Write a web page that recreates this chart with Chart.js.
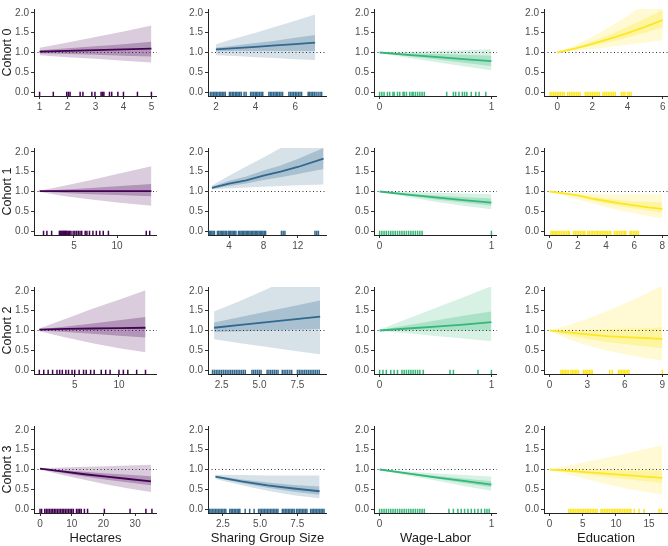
<!DOCTYPE html>
<html lang="en">
<head>
    <meta charset="UTF-8">
    <title>Cohort effects</title>
    <style>
        body { margin: 0; background: #fff; }
        #wrap { position: relative; width: 668px; height: 546px; overflow: hidden; }
        #wrap canvas { position: absolute; }
    </style>
</head>
<body>

    <div id="wrap"></div>

    <script src="https://cdn.jsdelivr.net/npm/chart.js"></script>
    <script>
        // ---- labels ----
        const cohorts = ['Cohort 0', 'Cohort 1', 'Cohort 2', 'Cohort 3'];
        const predictors = ['Hectares', 'Sharing Group Size', 'Wage-Labor', 'Education'];
        const yTickLabels = ['0.0', '0.5', '1.0', '1.5', '2.0'];

        // ---- Hectares ----
        const hect0_x = [1, 2, 3, 4, 5];
        const hect0_fit = [1.02, 1.04, 1.06, 1.08, 1.10];
        const hect0_lo95 = [0.93, 0.88, 0.84, 0.79, 0.75];
        const hect0_hi95 = [1.12, 1.25, 1.39, 1.53, 1.68];
        const hect0_lo50 = [0.98, 0.96, 0.94, 0.92, 0.90];
        const hect0_hi50 = [1.06, 1.11, 1.16, 1.21, 1.27];
        const hect0_rug = [1, 1.49, 1.97, 2.03, 2.09, 2.45, 2.55, 2.87, 2.98, 3.2, 3.25, 3.3, 3.5, 3.58, 3.8, 4.0, 4.5, 5.0];
        const hect0_ticks = ['1', '2', '3', '4', '5'];

        const hect1_x = [1, 4, 7, 10, 14];
        const hect1_fit = [1.01, 1.01, 1.01, 1.01, 1.01];
        const hect1_lo95 = [0.99, 0.88, 0.80, 0.72, 0.64];
        const hect1_hi95 = [1.02, 1.15, 1.29, 1.44, 1.64];
        const hect1_lo50 = [1.0, 0.96, 0.93, 0.91, 0.88];
        const hect1_hi50 = [1.02, 1.05, 1.09, 1.13, 1.19];
        const hect1_rug = [1.46, 1.85, 2.4, 3.3, 3.4, 3.5, 3.6, 3.7, 3.8, 3.9, 4.0, 4.1, 4.2, 4.35, 4.5, 4.65, 4.9, 5.1, 5.3, 5.5, 5.7, 5.9, 6.3, 6.5, 6.8, 7.2, 7.6, 8.0, 8.4, 9.0, 13.4, 13.8];
        const hect1_ticks = ['5', '10'];

        const hect2_x = [1, 4, 7, 10, 13];
        const hect2_fit = [1.02, 1.04, 1.05, 1.06, 1.07];
        const hect2_lo95 = [0.98, 0.82, 0.68, 0.55, 0.45];
        const hect2_hi95 = [1.05, 1.3, 1.55, 1.78, 2.02];
        const hect2_lo50 = [1.0, 0.96, 0.92, 0.87, 0.82];
        const hect2_hi50 = [1.03, 1.1, 1.18, 1.26, 1.34];
        const hect2_rug = [1, 1.5, 2, 2.5, 3, 3.3, 3.6, 4, 4.3, 4.7, 5, 5.5, 6, 6.3, 6.8, 7.2, 8, 8.5, 9, 10, 10.5, 11, 12, 13];
        const hect2_ticks = ['5', '10'];

        const hect3_x = [0, 7, 14, 21, 28, 35];
        const hect3_fit = [1.02, 0.95, 0.88, 0.82, 0.76, 0.70];
        const hect3_lo95 = [1.0, 0.86, 0.74, 0.62, 0.52, 0.43];
        const hect3_hi95 = [1.03, 1.05, 1.07, 1.08, 1.10, 1.12];
        const hect3_lo50 = [1.01, 0.91, 0.82, 0.74, 0.67, 0.60];
        const hect3_hi50 = [1.02, 0.98, 0.94, 0.90, 0.87, 0.83];
        const hect3_rug = [0, 0.5, 1.5, 2, 2.5, 3, 3.5, 4, 4.5, 5, 5.5, 6, 6.5, 7, 7.5, 8, 8.5, 9, 9.5, 10, 10.5, 11.5, 12, 12.5, 13, 14, 15, 20.3, 28.4, 33.4, 35.3];
        const hect3_ticks = ['0', '10', '20', '30'];

        // ---- Sharing Group Size ----
        const shar0_x = [2, 3, 4, 5, 6, 7];
        const shar0_fit = [1.08, 1.11, 1.14, 1.18, 1.21, 1.25];
        const shar0_lo95 = [0.93, 0.91, 0.88, 0.86, 0.83, 0.81];
        const shar0_hi95 = [1.21, 1.36, 1.5, 1.65, 1.8, 1.96];
        const shar0_lo50 = [1.03, 1.035, 1.04, 1.04, 1.04, 1.04];
        const shar0_hi50 = [1.12, 1.18, 1.24, 1.3, 1.37, 1.44];
        const shar0_rug = [1.72, 1.8, 1.88, 1.95, 2.02, 2.1, 2.18, 2.25, 2.32, 2.4, 2.47, 2.68, 2.75, 2.83, 2.9, 2.98, 3.05, 3.12, 3.2, 3.28, 3.42, 3.52, 3.75, 3.82, 3.9, 3.98, 4.05, 4.12, 4.2, 4.28, 4.36, 4.67, 4.75, 4.82, 4.9, 4.98, 5.05, 5.12, 5.2, 5.28, 5.36, 5.68, 5.76, 5.84, 5.92, 6.0, 6.08, 6.16, 6.24, 6.32, 6.65, 6.72, 6.8, 6.88, 6.96, 7.05, 7.15, 7.25, 7.33];
        const shar0_ticks = ['2', '4', '6'];

        const shar1_x = [2, 4, 6, 8, 10, 12, 15];
        const shar1_fit = [1.09, 1.2, 1.28, 1.4, 1.5, 1.62, 1.83];
        const shar1_lo95 = [1.05, 1.08, 1.1, 1.12, 1.14, 1.16, 1.18];
        const shar1_hi95 = [1.15, 1.4, 1.63, 1.86, 2.1, 2.35, 2.75];
        const shar1_lo50 = [1.07, 1.14, 1.2, 1.29, 1.36, 1.44, 1.57];
        const shar1_hi50 = [1.12, 1.27, 1.38, 1.53, 1.66, 1.82, 2.1];
        const shar1_rug = [1.7, 1.85, 2.0, 2.15, 2.3, 2.65, 2.8, 2.95, 3.1, 3.25, 3.4, 3.55, 3.7, 3.9, 4.05, 4.2, 4.35, 4.5, 4.65, 4.8, 5.1, 5.25, 5.4, 5.55, 5.7, 5.85, 6.0, 6.15, 6.3, 6.45, 6.6, 6.75, 6.9, 7.05, 7.2, 7.35, 7.5, 7.65, 7.8, 7.95, 8.1, 8.25, 10.1, 10.3, 10.5, 14.0, 14.2, 14.4];
        const shar1_ticks = ['4', '8', '12'];

        const shar2_x = [2, 3.75, 5.5, 7.25, 9];
        const shar2_fit = [1.07, 1.14, 1.21, 1.28, 1.35];
        const shar2_lo95 = [0.78, 0.68, 0.58, 0.49, 0.40];
        const shar2_hi95 = [1.48, 1.75, 2.05, 2.35, 2.65];
        const shar2_lo50 = [0.96, 0.98, 1.0, 1.02, 1.04];
        const shar2_hi50 = [1.2, 1.34, 1.48, 1.62, 1.76];
        const shar2_rug = [1.9, 2.02, 2.14, 2.26, 2.38, 2.5, 2.62, 2.74, 2.86, 2.98, 3.1, 3.22, 3.34, 3.46, 3.58, 3.7, 3.82, 3.94, 4.06, 4.5, 4.62, 4.74, 4.86, 4.98, 5.1, 5.5, 5.62, 5.74, 5.86, 5.98, 6.1, 6.22, 6.5, 6.62, 6.74, 6.86, 7.0, 7.12, 7.5, 7.62, 7.74, 7.86, 7.98, 8.1, 8.22, 8.34, 8.46, 8.58, 8.7, 8.82, 8.94];
        const shar2_ticks = ['2.5', '5.0', '7.5'];

        const shar3_x = [2, 3.75, 5.5, 7.25, 9];
        const shar3_fit = [0.82, 0.70, 0.60, 0.52, 0.45];
        const shar3_lo95 = [0.76, 0.60, 0.46, 0.35, 0.27];
        const shar3_hi95 = [0.87, 0.86, 0.85, 0.85, 0.85];
        const shar3_lo50 = [0.79, 0.66, 0.54, 0.44, 0.36];
        const shar3_hi50 = [0.84, 0.75, 0.67, 0.61, 0.57];
        const shar3_rug = [1.6, 1.7, 1.8, 1.9, 2.0, 2.1, 2.2, 2.3, 2.4, 2.5, 2.6, 2.7, 2.96, 3.06, 3.16, 3.26, 3.36, 3.46, 3.56, 3.64, 4.0, 4.3, 4.6, 4.9, 5.0, 5.1, 5.2, 5.3, 5.4, 5.5, 5.6, 5.7, 5.8, 5.9, 6.0, 6.1, 6.2, 6.5, 6.6, 6.7, 6.8, 6.9, 7.0, 7.1, 7.2, 7.3, 7.45, 7.55, 7.65, 7.75, 7.85, 7.95, 8.05, 8.15, 8.4, 8.5, 8.6, 8.7, 8.8, 8.9, 9.0, 9.1, 9.2, 9.3];
        const shar3_ticks = ['2.5', '5.0', '7.5'];

        // ---- Wage-Labor ----
        const wage0_x = [0, 0.25, 0.5, 0.75, 1];
        const wage0_fit = [1.0, 0.94, 0.89, 0.83, 0.78];
        const wage0_lo95 = [0.99, 0.87, 0.76, 0.65, 0.55];
        const wage0_hi95 = [1.01, 1.02, 1.04, 1.06, 1.08];
        const wage0_lo50 = [1.0, 0.91, 0.83, 0.74, 0.66];
        const wage0_hi50 = [1.0, 0.98, 0.96, 0.94, 0.92];
        const wage0_rug = [0, 0.02, 0.04, 0.07, 0.09, 0.12, 0.13, 0.16, 0.18, 0.21, 0.22, 0.24, 0.27, 0.29, 0.3, 0.32, 0.34, 0.36, 0.38, 0.4, 0.6, 0.66, 0.68, 0.71, 0.74, 0.76, 0.78, 0.82, 0.86, 0.89, 0.95];
        const wage0_ticks = ['0', '1'];

        const wage1_x = [0, 0.25, 0.5, 0.75, 1];
        const wage1_fit = [1.0, 0.92, 0.85, 0.78, 0.72];
        const wage1_lo95 = [0.99, 0.86, 0.74, 0.64, 0.55];
        const wage1_hi95 = [1.01, 0.99, 0.97, 0.95, 0.93];
        const wage1_lo50 = [1.0, 0.9, 0.8, 0.72, 0.64];
        const wage1_hi50 = [1.0, 0.95, 0.9, 0.86, 0.82];
        const wage1_rug = [0, 0.02, 0.04, 0.06, 0.08, 0.1, 0.12, 0.14, 0.16, 0.18, 0.2, 0.22, 0.24, 0.26, 0.28, 0.3, 0.32, 0.34, 0.36, 0.38, 1.0];
        const wage1_ticks = ['0', '1'];

        const wage2_x = [0, 0.25, 0.5, 0.75, 1];
        const wage2_fit = [1.0, 1.05, 1.1, 1.15, 1.21];
        const wage2_lo95 = [0.99, 0.93, 0.86, 0.8, 0.73];
        const wage2_hi95 = [1.02, 1.3, 1.57, 1.84, 2.12];
        const wage2_lo50 = [1.0, 1.0, 1.0, 1.0, 1.0];
        const wage2_hi50 = [1.01, 1.13, 1.25, 1.37, 1.48];
        const wage2_rug = [0, 0.03, 0.06, 0.1, 0.13, 0.16, 0.2, 0.22, 0.24, 0.26, 0.28, 0.3, 0.32, 0.34, 0.36, 0.39, 0.63, 0.66, 0.88, 1.0];
        const wage2_ticks = ['0', '1'];

        const wage3_x = [0, 0.25, 0.5, 0.75, 1];
        const wage3_fit = [1.0, 0.9, 0.8, 0.71, 0.62];
        const wage3_lo95 = [0.99, 0.85, 0.72, 0.58, 0.46];
        const wage3_hi95 = [1.01, 0.95, 0.9, 0.86, 0.82];
        const wage3_lo50 = [1.0, 0.88, 0.77, 0.66, 0.55];
        const wage3_hi50 = [1.0, 0.92, 0.84, 0.77, 0.7];
        const wage3_rug = [0, 0.02, 0.04, 0.06, 0.08, 0.1, 0.12, 0.14, 0.16, 0.18, 0.2, 0.22, 0.24, 0.26, 0.28, 0.3, 0.32, 0.34, 0.36, 0.38, 0.4, 0.62, 0.66, 0.7, 0.73, 0.76, 0.79, 0.82, 0.85, 0.88, 0.91, 0.94, 0.96, 0.98];
        const wage3_ticks = ['0', '1'];

        // ---- Education ----
        const educ0_x = [0, 1, 2, 3, 4, 5, 6];
        const educ0_fit = [1.0, 1.1, 1.22, 1.35, 1.49, 1.65, 1.82];
        const educ0_lo95 = [1.0, 1.05, 1.09, 1.14, 1.2, 1.25, 1.31];
        const educ0_hi95 = [1.0, 1.18, 1.4, 1.65, 1.92, 2.25, 2.55];
        const educ0_lo50 = [1.0, 1.08, 1.17, 1.27, 1.38, 1.5, 1.63];
        const educ0_hi50 = [1.0, 1.13, 1.28, 1.45, 1.65, 1.86, 2.08];
        const educ0_rug = [-0.4, -0.3, -0.2, -0.1, 0, 0.1, 0.2, 0.3, 0.4, 0.6, 0.7, 0.8, 0.9, 1.0, 1.1, 1.2, 1.3, 1.6, 1.7, 1.8, 1.9, 2.0, 2.1, 2.2, 2.3, 2.4, 2.6, 2.7, 2.8, 2.9, 3.0, 3.1, 3.2, 3.3, 3.65, 3.75, 3.85, 4.0, 4.1, 4.2];
        const educ0_ticks = ['0', '2', '4', '6'];

        const educ1_x = [0, 1, 2, 3, 4, 5, 6, 7, 8];
        const educ1_fit = [1.0, 0.95, 0.9, 0.82, 0.76, 0.7, 0.65, 0.6, 0.56];
        const educ1_lo95 = [1.0, 0.9, 0.8, 0.7, 0.6, 0.52, 0.45, 0.38, 0.32];
        const educ1_hi95 = [1.0, 0.98, 0.96, 0.94, 0.93, 0.93, 0.93, 0.93, 0.93];
        const educ1_lo50 = [1.0, 0.93, 0.86, 0.77, 0.7, 0.63, 0.57, 0.52, 0.47];
        const educ1_hi50 = [1.0, 0.96, 0.93, 0.87, 0.82, 0.78, 0.75, 0.74, 0.72];
        const educ1_rug = [0.1, 0.2, 0.3, 0.4, 0.5, 0.6, 0.72, 0.84, 0.96, 1.08, 1.2, 1.32, 1.4, 1.7, 1.82, 1.94, 2.06, 2.18, 2.3, 2.42, 2.5, 2.7, 2.82, 2.94, 3.06, 3.18, 3.3, 3.4, 3.5, 3.62, 3.74, 3.86, 3.98, 4.1, 4.22, 4.34, 4.6, 4.72, 4.84, 4.96, 5.08, 5.2, 5.32, 5.4, 5.7, 5.82, 5.94, 6.06, 6.18, 6.3];
        const educ1_ticks = ['0', '2', '4', '6', '8'];

        const educ2_x = [0, 1.5, 3, 4.5, 6, 7.5, 9];
        const educ2_fit = [1.0, 0.95, 0.9, 0.86, 0.83, 0.81, 0.79];
        const educ2_lo95 = [1.0, 0.78, 0.62, 0.5, 0.4, 0.31, 0.24];
        const educ2_hi95 = [1.0, 1.14, 1.3, 1.48, 1.68, 1.9, 2.15];
        const educ2_lo50 = [1.0, 0.88, 0.79, 0.71, 0.65, 0.6, 0.55];
        const educ2_hi50 = [1.0, 1.0, 1.02, 1.03, 1.05, 1.06, 1.08];
        const educ2_rug = [0.9, 1.02, 1.14, 1.26, 1.38, 1.5, 1.7, 1.82, 1.94, 2.06, 2.18, 2.3, 2.7, 2.82, 2.94, 3.06, 3.18, 3.3, 3.4, 4.8, 5.0, 5.5, 5.62, 5.74, 5.86, 5.98, 6.1, 6.22, 6.34, 9.0];
        const educ2_ticks = ['0', '3', '6', '9'];

        const educ3_x = [0, 4, 8, 12, 17];
        const educ3_fit = [1.0, 0.95, 0.9, 0.85, 0.79];
        const educ3_lo95 = [1.0, 0.82, 0.65, 0.5, 0.37];
        const educ3_hi95 = [1.0, 1.14, 1.28, 1.42, 1.62];
        const educ3_lo50 = [1.0, 0.91, 0.83, 0.75, 0.66];
        const educ3_hi50 = [1.0, 1.0, 0.99, 0.98, 0.97];
        const educ3_rug = [2.9, 3.15, 3.4, 3.65, 3.9, 4.15, 4.4, 4.65, 4.9, 5.15, 5.4, 5.65, 5.9, 6.15, 6.4, 6.65, 6.9, 7.15, 7.75, 8.0, 8.25, 8.5, 8.75, 9.0, 9.25, 9.5, 9.75, 10.0, 10.25, 10.5, 10.75, 11.0, 11.25, 11.5, 11.75, 12.0, 12.25, 12.75, 13.5, 14.25, 16.5, 16.85];
        const educ3_ticks = ['0', '5', '10', '15'];

        // ---- layout (pixels) ----
        const colLeft = [34, 208, 374, 544];
        const colRight = [157, 327, 497, 668];
        const rowTop = [1, 140, 279, 418];
        const plotH = 95;
        const yAxisW = [34, 32, 32, 32];
        const xAxisH = [22, 22, 22, 36];
        const Y_MIN = -0.1, Y_MAX = 2.1;

        // viridis colours per column
        const lineColors = ['#440154', '#31688E', '#35B779', '#FDE725'];
        const rgb = [[68, 1, 84], [49, 104, 142], [53, 183, 121], [253, 231, 37]];

        const panels = [
            { row: 0, col: 0, x: hect0_x, fit: hect0_fit, lo95: hect0_lo95, hi95: hect0_hi95, lo50: hect0_lo50, hi50: hect0_hi50, rug: hect0_rug, ticks: hect0_ticks, min: 0.8, max: 5.2 },
            { row: 1, col: 0, x: hect1_x, fit: hect1_fit, lo95: hect1_lo95, hi95: hect1_hi95, lo50: hect1_lo50, hi50: hect1_hi50, rug: hect1_rug, ticks: hect1_ticks, min: 0.35, max: 14.65 },
            { row: 2, col: 0, x: hect2_x, fit: hect2_fit, lo95: hect2_lo95, hi95: hect2_hi95, lo50: hect2_lo50, hi50: hect2_hi50, rug: hect2_rug, ticks: hect2_ticks, min: 0.4, max: 14.3 },
            { row: 3, col: 0, x: hect3_x, fit: hect3_fit, lo95: hect3_lo95, hi95: hect3_hi95, lo50: hect3_lo50, hi50: hect3_hi50, rug: hect3_rug, ticks: hect3_ticks, min: -1.9, max: 36.9 },
            { row: 0, col: 1, x: shar0_x, fit: shar0_fit, lo95: shar0_lo95, hi95: shar0_hi95, lo50: shar0_lo50, hi50: shar0_hi50, rug: shar0_rug, ticks: shar0_ticks, min: 1.6, max: 7.6 },
            { row: 1, col: 1, x: shar1_x, fit: shar1_fit, lo95: shar1_lo95, hi95: shar1_hi95, lo50: shar1_lo50, hi50: shar1_hi50, rug: shar1_rug, ticks: shar1_ticks, min: 1.55, max: 15.4 },
            { row: 2, col: 1, x: shar2_x, fit: shar2_fit, lo95: shar2_lo95, hi95: shar2_hi95, lo50: shar2_lo50, hi50: shar2_hi50, rug: shar2_rug, ticks: shar2_ticks, min: 1.6, max: 9.45 },
            { row: 3, col: 1, x: shar3_x, fit: shar3_fit, lo95: shar3_lo95, hi95: shar3_hi95, lo50: shar3_lo50, hi50: shar3_hi50, rug: shar3_rug, ticks: shar3_ticks, min: 1.5, max: 9.5 },
            { row: 0, col: 2, x: wage0_x, fit: wage0_fit, lo95: wage0_lo95, hi95: wage0_hi95, lo50: wage0_lo50, hi50: wage0_hi50, rug: wage0_rug, ticks: wage0_ticks, min: -0.05, max: 1.05 },
            { row: 1, col: 2, x: wage1_x, fit: wage1_fit, lo95: wage1_lo95, hi95: wage1_hi95, lo50: wage1_lo50, hi50: wage1_hi50, rug: wage1_rug, ticks: wage1_ticks, min: -0.05, max: 1.05 },
            { row: 2, col: 2, x: wage2_x, fit: wage2_fit, lo95: wage2_lo95, hi95: wage2_hi95, lo50: wage2_lo50, hi50: wage2_hi50, rug: wage2_rug, ticks: wage2_ticks, min: -0.05, max: 1.05 },
            { row: 3, col: 2, x: wage3_x, fit: wage3_fit, lo95: wage3_lo95, hi95: wage3_hi95, lo50: wage3_lo50, hi50: wage3_hi50, rug: wage3_rug, ticks: wage3_ticks, min: -0.05, max: 1.05 },
            { row: 0, col: 3, x: educ0_x, fit: educ0_fit, lo95: educ0_lo95, hi95: educ0_hi95, lo50: educ0_lo50, hi50: educ0_hi50, rug: educ0_rug, ticks: educ0_ticks, min: -0.75, max: 6.3 },
            { row: 1, col: 3, x: educ1_x, fit: educ1_fit, lo95: educ1_lo95, hi95: educ1_hi95, lo50: educ1_lo50, hi50: educ1_hi50, rug: educ1_rug, ticks: educ1_ticks, min: -0.4, max: 8.4 },
            { row: 2, col: 3, x: educ2_x, fit: educ2_fit, lo95: educ2_lo95, hi95: educ2_hi95, lo50: educ2_lo50, hi50: educ2_hi50, rug: educ2_rug, ticks: educ2_ticks, min: -0.45, max: 9.45 },
            { row: 3, col: 3, x: educ3_x, fit: educ3_fit, lo95: educ3_lo95, hi95: educ3_hi95, lo50: educ3_lo50, hi50: educ3_hi50, rug: educ3_rug, ticks: educ3_ticks, min: -0.85, max: 17.85 }
        ];

        Chart.defaults.font.family = "'Liberation Sans', Arial, sans-serif";

        const wrap = document.getElementById('wrap');
        const pts = (xs, ys) => xs.map((x, i) => ({ x: x, y: ys[i] }));
        const rgba = (c, a) => 'rgba(' + rgb[c].join(',') + ',' + a + ')';

        function makePanel(p) {
            const r = p.row, c = p.col;
            const w = yAxisW[c] + colRight[c] - colLeft[c];
            const h = plotH + xAxisH[r];
            const cv = document.createElement('canvas');
            cv.width = w;
            cv.height = h;
            cv.style.left = (colLeft[c] - yAxisW[c]) + 'px';
            cv.style.top = rowTop[r] + 'px';
            cv.style.width = w + 'px';
            cv.style.height = h + 'px';
            wrap.appendChild(cv);

            const band = { showLine: true, pointRadius: 0, borderWidth: 1, borderColor: 'rgba(0,0,0,0)' };

            new Chart(cv, {
                type: 'scatter',
                data: {
                    datasets: [
                        Object.assign({ data: pts(p.x, p.hi95), fill: 1, backgroundColor: rgba(c, 0.2), order: 6 }, band),
                        Object.assign({ data: pts(p.x, p.lo95), fill: false, order: 5 }, band),
                        Object.assign({ data: pts(p.x, p.hi50), fill: 3, backgroundColor: rgba(c, 0.28), order: 4 }, band),
                        Object.assign({ data: pts(p.x, p.lo50), fill: false, order: 3 }, band),
                        {
                            data: [{ x: p.min, y: 1 }, { x: p.max, y: 1 }],
                            showLine: true, pointRadius: 0, borderColor: '#333', borderWidth: 1,
                            borderDash: [1, 2.5], order: 2
                        },
                        {
                            data: pts(p.x, p.fit),
                            showLine: true, pointRadius: 0, borderColor: lineColors[c], borderWidth: 1.8, order: 1
                        },
                        {
                            data: p.rug.map(v => ({ x: v, y: -0.05 })),
                            showLine: false, pointStyle: 'line', rotation: 90, pointRadius: 2.3,
                            borderColor: lineColors[c], borderWidth: 1.5, order: 0
                        }
                    ]
                },
                options: {
                    responsive: false,
                    animation: false,
                    events: [],
                    layout: { padding: 0, autoPadding: false },
                    plugins: { legend: { display: false }, tooltip: { enabled: false } },
                    scales: {
                        x: {
                            type: 'linear',
                            min: p.min,
                            max: p.max,
                            afterBuildTicks: a => { a.ticks = p.ticks.map(t => ({ value: Number(t) })); },
                            afterFit: s => { s.height = xAxisH[r]; },
                            ticks: {
                                callback: (v, i) => p.ticks[i],
                                color: '#4d4d4d', font: { size: 10 }, padding: 2,
                                maxRotation: 0, autoSkip: false
                            },
                            grid: { drawOnChartArea: false, drawTicks: true, tickLength: 3, color: '#333' },
                            border: { display: true, color: '#222', width: 1 },
                            title: {
                                display: r === 3, text: predictors[c], color: '#1a1a1a',
                                font: { size: 13 }, padding: { top: 3, bottom: 3 }
                            }
                        },
                        y: {
                            type: 'linear',
                            min: Y_MIN,
                            max: Y_MAX,
                            afterBuildTicks: a => { a.ticks = yTickLabels.map(t => ({ value: Number(t) })); },
                            afterFit: s => { s.width = yAxisW[c]; },
                            ticks: {
                                callback: (v, i) => yTickLabels[i],
                                color: '#4d4d4d', font: { size: 10 }, padding: 2, autoSkip: false
                            },
                            grid: { drawOnChartArea: false, drawTicks: true, tickLength: 3, color: '#333' },
                            border: { display: true, color: '#222', width: 1 },
                            title: {
                                display: c === 0, text: cohorts[r], color: '#1a1a1a',
                                font: { size: 12.5 }, padding: { top: 0, bottom: 0 }
                            }
                        }
                    }
                }
            });
        }

        panels.forEach(makePanel);
    </script>

</body>
</html>
